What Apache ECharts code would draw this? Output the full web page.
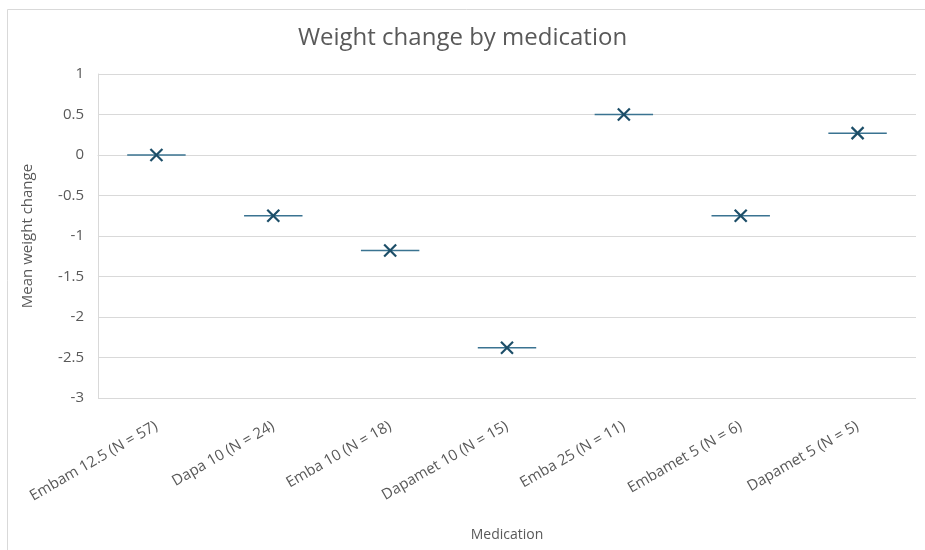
<!DOCTYPE html>
<html lang="en">
<head>
    <meta charset="UTF-8">
    <title>Weight change by medication</title>
    <style>
        html, body { margin: 0; padding: 0; background: #fff; }
        #chart { width: 925px; height: 550px; }
    </style>
</head>
<body>
<div id="chart"></div>
<script src="https://cdn.jsdelivr.net/npm/echarts@6/dist/echarts.min.js"></script>
<script>
    var medications = ['Embam 12.5 (N = 57)', 'Dapa 10 (N = 24)', 'Emba 10 (N = 18)',
        'Dapamet 10 (N = 15)', 'Emba 25 (N = 11)', 'Embamet 5 (N = 6)', 'Dapamet 5 (N = 5)'];
    var meanChange = [0, -0.75, -1.18, -2.38, 0.5, -0.75, 0.27];
    var yTicks = [-3, -2.5, -2, -1.5, -1, -0.5, 0, 0.5, 1];

    var textColor = '#595959';
    var myChart = echarts.init(document.getElementById('chart'));

    // a short horizontal bar with an X on top, one per category
    function drawMark(params, api) {
        var p = api.coord([api.value(0), api.value(1)]);
        var band = api.size([1, 0])[0];
        var half = band * 0.25;
        var s = 6;
        return {
            type: 'group',
            children: [
                {
                    type: 'line',
                    shape: { x1: p[0] - half, y1: p[1], x2: p[0] + half, y2: p[1] },
                    style: { stroke: '#3a7391', lineWidth: 1.5 }
                },
                {
                    type: 'line',
                    shape: { x1: p[0] - s, y1: p[1] - s, x2: p[0] + s, y2: p[1] + s },
                    style: { stroke: '#1c4e68', lineWidth: 2.2 }
                },
                {
                    type: 'line',
                    shape: { x1: p[0] - s, y1: p[1] + s, x2: p[0] + s, y2: p[1] - s },
                    style: { stroke: '#1c4e68', lineWidth: 2.2 }
                }
            ]
        };
    }

    var option = {
        animation: false,
        backgroundColor: '#fff',
        textStyle: { fontFamily: 'Open Sans, sans-serif' },
        title: {
            text: 'Weight change by medication',
            left: 'center',
            top: 21,
            textStyle: {
                color: textColor,
                fontSize: 24,
                fontWeight: 'normal',
                fontFamily: 'Open Sans, sans-serif'
            }
        },
        graphic: [{
            type: 'rect',
            shape: { x: 7.5, y: 9.5, width: 930, height: 560 },
            style: { fill: 'none', stroke: '#d9d9d9', lineWidth: 1 },
            silent: true
        }],
        grid: { left: 98, right: 9, top: 74, bottom: 152 },
        xAxis: {
            type: 'category',
            data: medications,
            name: 'Medication',
            nameLocation: 'middle',
            nameGap: 130,
            nameTextStyle: { color: textColor, fontSize: 14 },
            axisLine: { lineStyle: { color: '#d9d9d9' } },
            axisTick: { show: false },
            axisLabel: {
                rotate: 30,
                color: textColor,
                fontSize: 15,
                margin: 27,
                interval: 0
            },
            splitLine: { show: false }
        },
        yAxis: {
            type: 'value',
            min: yTicks[0],
            max: yTicks[yTicks.length - 1],
            interval: 0.5,
            name: 'Mean weight change',
            nameLocation: 'middle',
            nameGap: 63,
            nameTextStyle: { color: textColor, fontSize: 15 },
            axisLine: { show: true, lineStyle: { color: '#d9d9d9' } },
            axisTick: { show: false },
            axisLabel: { color: textColor, fontSize: 15, margin: 14 },
            splitLine: { lineStyle: { color: '#d9d9d9' } }
        },
        series: [{
            type: 'custom',
            renderItem: drawMark,
            data: meanChange.map(function (v, i) { return [i, v]; }),
            encode: { x: 0, y: 1 }
        }]
    };
    myChart.setOption(option);
</script>
</body>
</html>
